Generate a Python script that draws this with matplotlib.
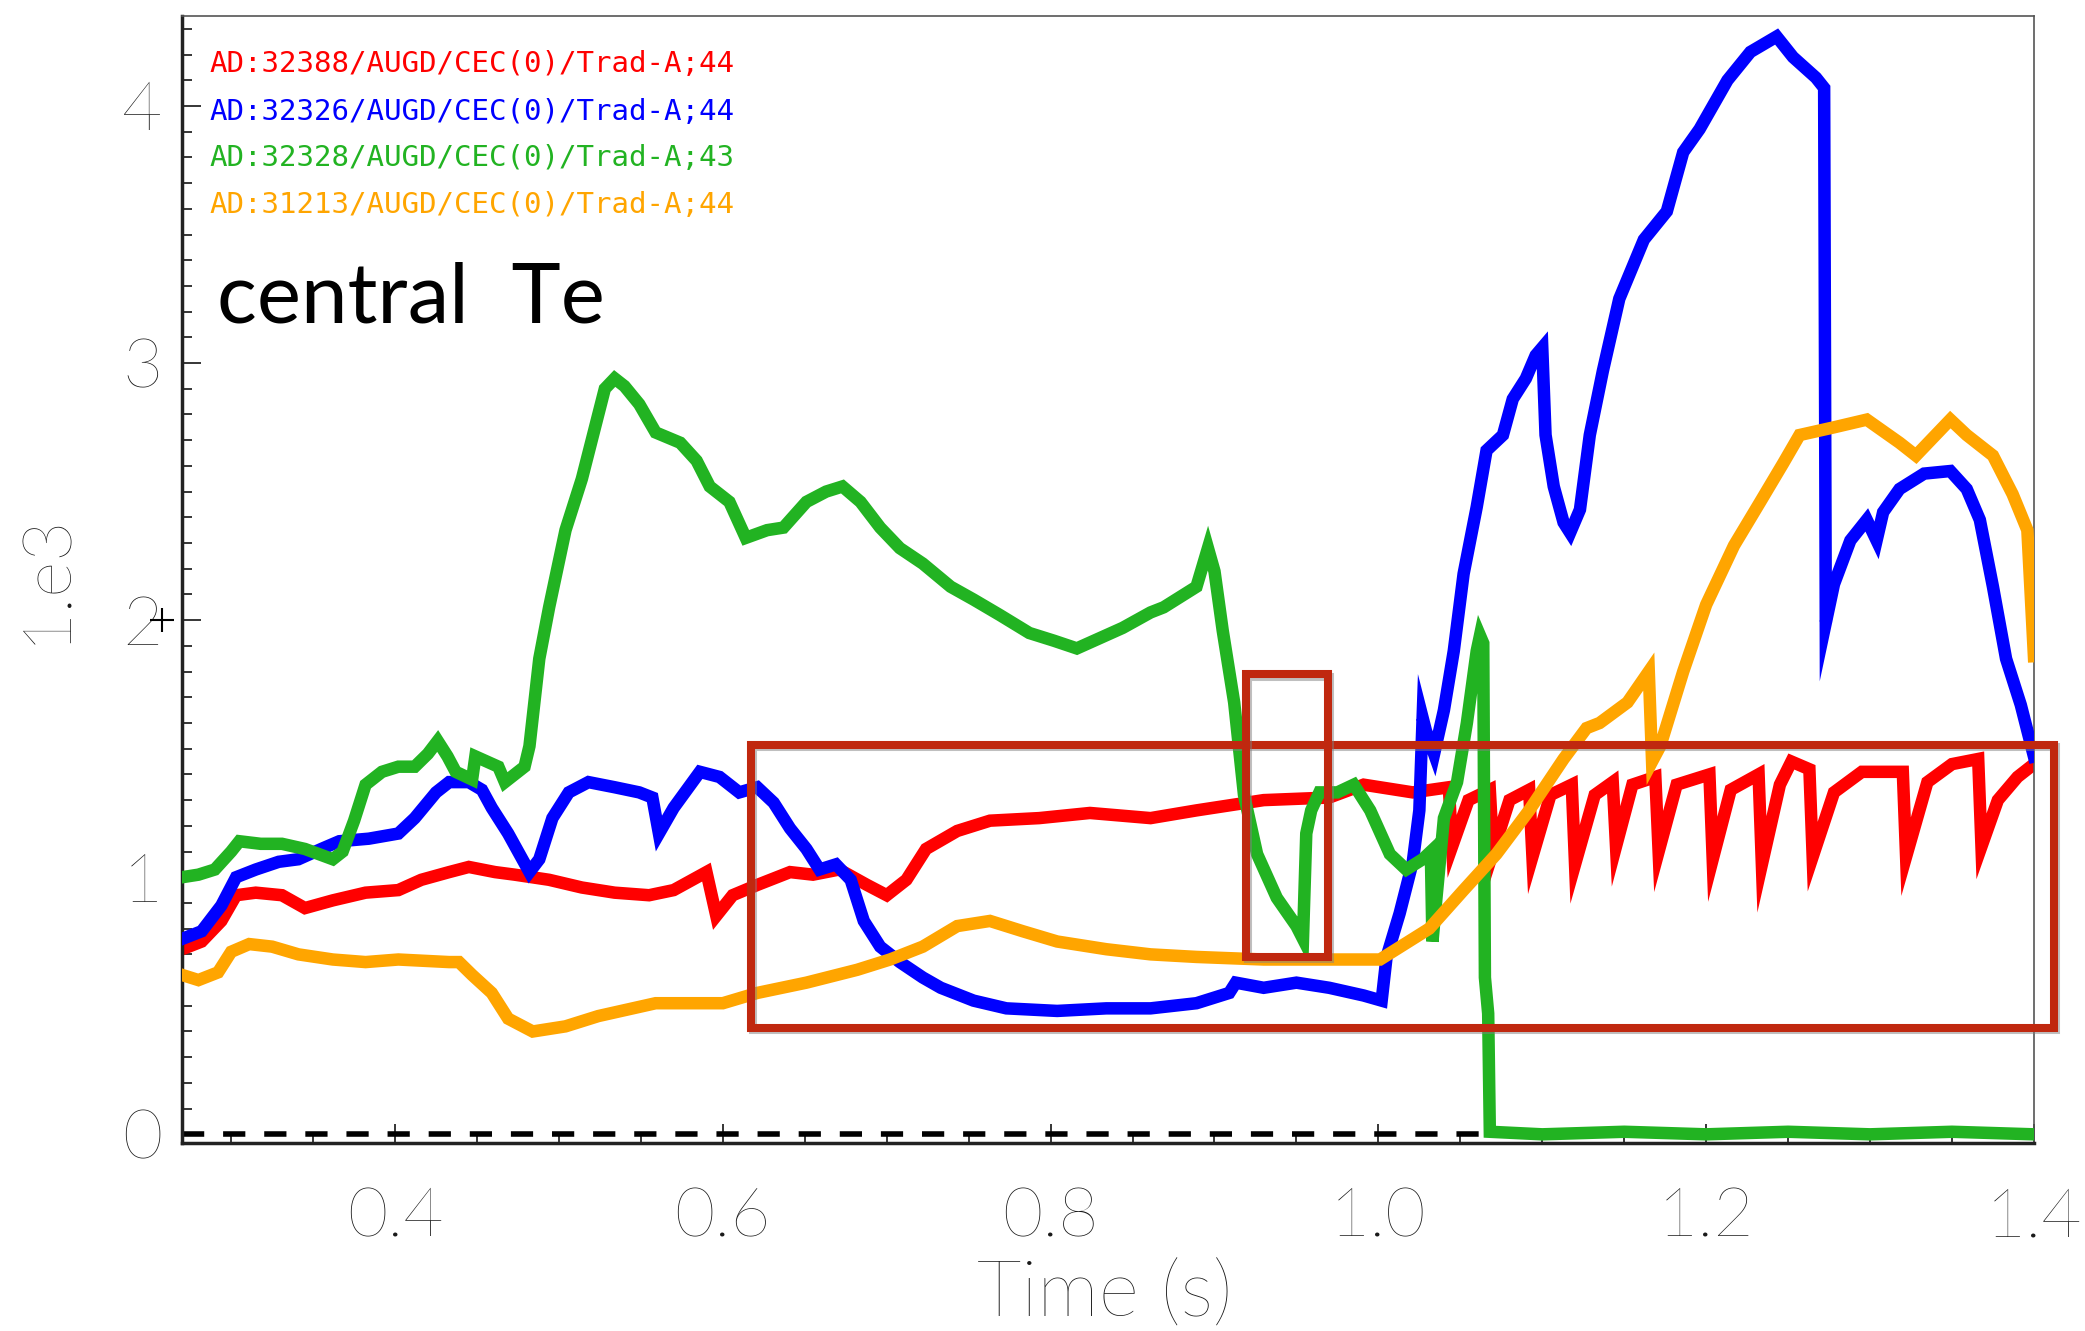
import numpy as np
import matplotlib as mpl
mpl.use('Agg')
import matplotlib.pyplot as plt
from matplotlib import patheffects as pe
from matplotlib.ticker import MultipleLocator

# --- data (time in s, value in 1e3 units) ---
red_label = 'AD:32388/AUGD/CEC(0)/Trad-A;44'
blue_label = 'AD:32326/AUGD/CEC(0)/Trad-A;44'
green_label = 'AD:32328/AUGD/CEC(0)/Trad-A;43'
orange_label = 'AD:31213/AUGD/CEC(0)/Trad-A;44'

red_t = [0.270, 0.282, 0.294, 0.303, 0.315, 0.331, 0.345, 0.362, 0.382, 0.402, 0.416, 0.433,
         0.445, 0.461, 0.473, 0.494, 0.514, 0.534, 0.555, 0.570, 0.590, 0.596, 0.606, 0.621,
         0.641, 0.655, 0.671, 0.688, 0.700, 0.712, 0.724, 0.743, 0.763, 0.793, 0.824, 0.861,
         0.889, 0.930, 0.970, 0.991, 1.021, 1.043, 1.045, 1.055, 1.068, 1.070, 1.080, 1.092,
         1.094, 1.105, 1.118, 1.120, 1.132, 1.143, 1.145, 1.155, 1.169, 1.171, 1.182, 1.202,
         1.204, 1.215, 1.232, 1.234, 1.245, 1.252, 1.263, 1.265, 1.278, 1.295, 1.320, 1.322,
         1.335, 1.350, 1.366, 1.368, 1.378, 1.390, 1.400]
red_v = [0.72, 0.75, 0.83, 0.93, 0.94, 0.93, 0.88, 0.91, 0.94, 0.95, 0.99, 1.02,
         1.04, 1.02, 1.01, 0.99, 0.96, 0.94, 0.93, 0.95, 1.02, 0.85, 0.93, 0.97,
         1.02, 1.01, 1.03, 0.97, 0.93, 0.99, 1.11, 1.18, 1.22, 1.23, 1.25, 1.23,
         1.26, 1.30, 1.31, 1.36, 1.33, 1.35, 1.12, 1.30, 1.34, 1.10, 1.30, 1.34,
         1.08, 1.32, 1.36, 1.05, 1.32, 1.37, 1.12, 1.36, 1.39, 1.10, 1.36, 1.40,
         1.07, 1.34, 1.40, 1.05, 1.36, 1.45, 1.42, 1.08, 1.33, 1.41, 1.41, 1.08,
         1.37, 1.44, 1.46, 1.12, 1.30, 1.39, 1.44]

blue_t = [0.270, 0.282, 0.294, 0.303, 0.315, 0.329, 0.341, 0.355, 0.366, 0.384, 0.402, 0.412,
          0.425, 0.433, 0.445, 0.453, 0.459, 0.469, 0.482, 0.488, 0.496, 0.506, 0.518, 0.534,
          0.549, 0.557, 0.561, 0.570, 0.586, 0.598, 0.610, 0.621, 0.631, 0.641, 0.651, 0.659,
          0.669, 0.678, 0.686, 0.696, 0.708, 0.722, 0.733, 0.753, 0.773, 0.804, 0.834, 0.861,
          0.889, 0.909, 0.913, 0.930, 0.950, 0.970, 0.991, 1.002, 1.005, 1.013, 1.021, 1.025,
          1.027, 1.029, 1.034, 1.040, 1.046, 1.052, 1.060, 1.066, 1.076, 1.082, 1.090, 1.096,
          1.100, 1.102, 1.107, 1.113, 1.117, 1.123, 1.129, 1.137, 1.147, 1.162, 1.176, 1.186,
          1.196, 1.213, 1.227, 1.243, 1.253, 1.267, 1.272, 1.273, 1.278, 1.288, 1.298, 1.304,
          1.308, 1.318, 1.333, 1.349, 1.359, 1.367, 1.375, 1.383, 1.392, 1.400]
blue_v = [0.76, 0.79, 0.89, 1.00, 1.03, 1.06, 1.07, 1.11, 1.14, 1.15, 1.17, 1.23,
          1.33, 1.37, 1.37, 1.34, 1.27, 1.17, 1.02, 1.07, 1.23, 1.33, 1.37, 1.35,
          1.33, 1.31, 1.17, 1.27, 1.41, 1.39, 1.33, 1.35, 1.29, 1.19, 1.11, 1.03,
          1.05, 0.99, 0.83, 0.73, 0.67, 0.61, 0.57, 0.52, 0.49, 0.48, 0.49, 0.49,
          0.51, 0.55, 0.59, 0.57, 0.59, 0.57, 0.54, 0.52, 0.69, 0.86, 1.06, 1.26,
          1.62, 1.57, 1.48, 1.65, 1.88, 2.18, 2.44, 2.66, 2.72, 2.86, 2.94, 3.03,
          3.06, 2.72, 2.52, 2.38, 2.34, 2.43, 2.72, 2.97, 3.25, 3.48, 3.59, 3.82,
          3.91, 4.10, 4.21, 4.27, 4.19, 4.11, 4.07, 1.99, 2.14, 2.31, 2.39, 2.31,
          2.42, 2.51, 2.57, 2.58, 2.51, 2.39, 2.13, 1.85, 1.67, 1.47]

green_t = [0.270, 0.280, 0.290, 0.300, 0.305, 0.318, 0.331, 0.345, 0.362, 0.368, 0.375, 0.382,
           0.392, 0.402, 0.412, 0.420, 0.426, 0.432, 0.437, 0.447, 0.449, 0.456, 0.463, 0.467,
           0.473, 0.479, 0.482, 0.488, 0.494, 0.504, 0.514, 0.522, 0.528, 0.534, 0.540, 0.549,
           0.559, 0.574, 0.584, 0.592, 0.604, 0.614, 0.627, 0.637, 0.651, 0.663, 0.673, 0.684,
           0.696, 0.708, 0.722, 0.739, 0.753, 0.769, 0.787, 0.802, 0.816, 0.830, 0.844, 0.861,
           0.869, 0.889, 0.896, 0.900, 0.905, 0.912, 0.918, 0.926, 0.938, 0.950, 0.954, 0.956,
           0.959, 0.964, 0.975, 0.985, 0.995, 1.007, 1.017, 1.027, 1.032, 1.033, 1.035, 1.040,
           1.048, 1.054, 1.060, 1.062, 1.064, 1.065, 1.067, 1.068, 1.100, 1.150, 1.200, 1.250,
           1.300, 1.350, 1.400]
green_v = [1.00, 1.01, 1.03, 1.10, 1.14, 1.13, 1.13, 1.11, 1.07, 1.10, 1.22, 1.36,
           1.41, 1.43, 1.43, 1.48, 1.53, 1.47, 1.41, 1.38, 1.47, 1.45, 1.43, 1.37,
           1.40, 1.43, 1.51, 1.85, 2.05, 2.35, 2.55, 2.75, 2.90, 2.94, 2.91, 2.84,
           2.73, 2.69, 2.62, 2.52, 2.46, 2.32, 2.35, 2.36, 2.46, 2.50, 2.52, 2.46,
           2.36, 2.28, 2.22, 2.13, 2.08, 2.02, 1.95, 1.92, 1.89, 1.93, 1.97, 2.03,
           2.05, 2.13, 2.28, 2.19, 1.96, 1.68, 1.32, 1.09, 0.92, 0.81, 0.76, 1.17,
           1.26, 1.33, 1.33, 1.36, 1.26, 1.09, 1.03, 1.07, 1.10, 0.75, 0.89, 1.23,
           1.37, 1.60, 1.88, 1.94, 1.91, 0.61, 0.47, 0.01, 0.00, 0.01, 0.00, 0.01,
           0.00, 0.01, 0.00]

orange_t = [0.270, 0.280, 0.292, 0.300, 0.311, 0.325, 0.341, 0.362, 0.382, 0.402, 0.433, 0.439,
            0.447, 0.459, 0.469, 0.484, 0.504, 0.524, 0.545, 0.559, 0.570, 0.600, 0.621, 0.651,
            0.682, 0.702, 0.722, 0.743, 0.763, 0.783, 0.804, 0.834, 0.861, 0.889, 0.930, 0.970,
            1.001, 1.011, 1.031, 1.052, 1.072, 1.092, 1.113, 1.127, 1.135, 1.152, 1.165, 1.167,
            1.172, 1.186, 1.200, 1.217, 1.233, 1.247, 1.257, 1.278, 1.298, 1.318, 1.328, 1.349,
            1.359, 1.375, 1.387, 1.396, 1.400]
orange_v = [0.62, 0.60, 0.63, 0.71, 0.74, 0.73, 0.70, 0.68, 0.67, 0.68, 0.67, 0.67,
            0.62, 0.55, 0.45, 0.40, 0.42, 0.46, 0.49, 0.51, 0.51, 0.51, 0.55, 0.59,
            0.64, 0.68, 0.73, 0.81, 0.83, 0.79, 0.75, 0.72, 0.70, 0.69, 0.68, 0.68,
            0.68, 0.72, 0.80, 0.95, 1.09, 1.26, 1.46, 1.58, 1.60, 1.68, 1.80, 1.45,
            1.51, 1.80, 2.06, 2.29, 2.46, 2.61, 2.72, 2.75, 2.78, 2.69, 2.64, 2.78,
            2.72, 2.64, 2.49, 2.35, 1.86]

# highlight boxes drawn on the slide: (t0, t1, v0, v1)
big_box = (0.617, 1.412, 0.415, 1.516)
small_box = (0.919, 0.969, 0.691, 1.789)

x_ticks = [0.4, 0.6, 0.8, 1.0, 1.2, 1.4]
x_ticklabels = ['0.4', '0.6', '0.8', '1.0', '1.2', '1.4']
y_ticks = [0, 1, 2, 3, 4]
y_ticklabels = ['0', '1', '2', '3', '4']

thin = {'family': ['Lato', 'DejaVu Sans'], 'weight': 'light', 'color': '#1a1a1a'}

fig = plt.figure(figsize=(20.85, 13.31), dpi=100)
ax = fig.add_axes([0.0873, 0.141, 0.8882, 0.847])

lw = 9
ax.axhline(0, color='black', lw=4, dashes=(4.0, 3.4), zorder=1)
ax.plot(red_t, red_v, color='#ff0000', lw=lw, solid_joinstyle='miter', zorder=2)
ax.plot(blue_t, blue_v, color='#0000ff', lw=lw, solid_joinstyle='miter', zorder=3)
ax.plot(green_t, green_v, color='#22b322', lw=lw, solid_joinstyle='miter', zorder=4)
ax.plot(orange_t, orange_v, color='#ffa500', lw=lw, solid_joinstyle='miter', zorder=5)

ax.set_xlim(0.27, 1.40)
ax.set_ylim(-0.035, 4.35)

ax.set_xticks(x_ticks)
ax.set_xticklabels(x_ticklabels, fontdict=thin, fontsize=50)
ax.set_yticks(y_ticks)
ax.set_yticklabels(y_ticklabels, fontdict=thin, fontsize=50)
ax.xaxis.set_minor_locator(MultipleLocator(0.05))
ax.yaxis.set_minor_locator(MultipleLocator(0.1))
ax.tick_params(which='both', direction='in', top=False, right=False, color='black', width=1.1)
ax.tick_params(which='major', length=14)
ax.tick_params(which='minor', length=7)
ax.tick_params(axis='x', which='major', pad=32)
ax.tick_params(axis='y', which='major', pad=14)

for side in ['left', 'bottom']:
    ax.spines[side].set_linewidth(2.5)
    ax.spines[side].set_color('#222222')
for side in ['top', 'right']:
    ax.spines[side].set_linewidth(1.2)
    ax.spines[side].set_color('#555555')

ax.set_xlabel('Time (s)', fontdict=thin, fontsize=56, va='center')
ax.xaxis.set_label_coords(0.498, -0.135)
fig.text(0.022, 0.566, '1.e3', fontdict=thin, fontsize=50, rotation=90, ha='center', va='center')
ax.plot([0.258], [2.0], marker='+', color='black', ms=17, mew=1.5, clip_on=False)

labels = [red_label, blue_label, green_label, orange_label]
colors = ['#ff0000', '#0000ff', '#22b322', '#ffa500']
ypos = [0.957, 0.915, 0.874, 0.832]
for lab, col, yy in zip(labels, colors, ypos):
    ax.text(0.0146, yy, lab, transform=ax.transAxes, color=col, fontsize=21,
            family='DejaVu Sans Mono', va='center', ha='left')

ax.text(0.019, 0.728, 'central  Te', transform=ax.transAxes, fontsize=60,
        family=['Lato', 'DejaVu Sans'], va='baseline', ha='left', color='black')

shadow = [pe.SimpleLineShadow(offset=(2, -2), shadow_color='gray', alpha=0.5), pe.Normal()]
for (t0, t1, v0, v1) in [big_box, small_box]:
    rect = plt.Rectangle((t0, v0), t1 - t0, v1 - v0, fill=False, edgecolor='#c0280f',
                         lw=5.8, clip_on=False, zorder=10, path_effects=shadow)
    ax.add_patch(rect)

plt.savefig('out.png', dpi=100)
